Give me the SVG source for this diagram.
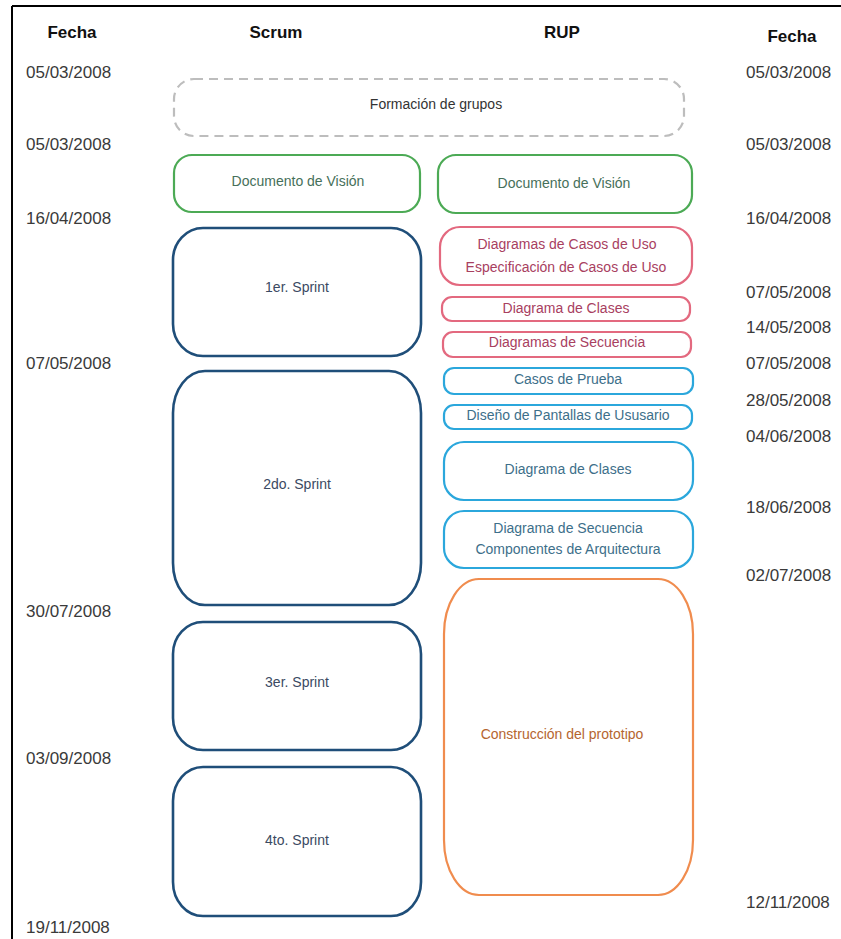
<svg xmlns="http://www.w3.org/2000/svg" width="841" height="939" viewBox="0 0 841 939">
<style>
  text { font-family: "Liberation Sans", Arial, sans-serif; }
  .hdr { font-size: 17px; font-weight: bold; fill: #111; text-anchor: middle; }
  .date { font-size: 17px; fill: #3a3a3a; }
  .lbl { font-size: 14px; text-anchor: middle; }
  .box { fill: #fff; stroke-width: 2.2; }
  .dash { fill: none; stroke: #bdbdbd; stroke-width: 2.2; stroke-dasharray: 9 6; }
  .sprint { stroke: #1f4e79; stroke-width: 2.6; fill: #fff; }
  .sprintT { fill: #3b4a62; }
  .green { stroke: #4caa55; }
  .greenT { fill: #46705a; }
  .pink { stroke: #e3697f; }
  .pinkT { fill: #a8405f; }
  .cyan { stroke: #2ba7dc; }
  .cyanT { fill: #3d6f8a; }
  .orange { stroke: #f08c4e; }
  .orangeT { fill: #b5652f; }
</style>
<rect x="0" y="0" width="841" height="939" fill="#fff"/>
<g id="frame">
  <line x1="12" y1="6" x2="841" y2="6" stroke="#000" stroke-width="2"/>
  <line x1="12" y1="6" x2="12" y2="939" stroke="#000" stroke-width="2"/>
</g>
<g id="headers">
  <text class="hdr" x="72" y="38">Fecha</text>
  <text class="hdr" x="276" y="38">Scrum</text>
  <text class="hdr" x="562" y="38">RUP</text>
  <text class="hdr" x="792" y="42">Fecha</text>
</g>
<g id="dates-left">
  <text class="date" x="26" y="78">05/03/2008</text>
  <text class="date" x="26" y="150">05/03/2008</text>
  <text class="date" x="26" y="224">16/04/2008</text>
  <text class="date" x="26" y="369">07/05/2008</text>
  <text class="date" x="26" y="617">30/07/2008</text>
  <text class="date" x="26" y="764">03/09/2008</text>
  <text class="date" x="26" y="933">19/11/2008</text>
</g>
<g id="dates-right">
  <text class="date" x="746" y="78">05/03/2008</text>
  <text class="date" x="746" y="150">05/03/2008</text>
  <text class="date" x="746" y="224">16/04/2008</text>
  <text class="date" x="746" y="298">07/05/2008</text>
  <text class="date" x="746" y="333">14/05/2008</text>
  <text class="date" x="746" y="369">07/05/2008</text>
  <text class="date" x="746" y="406">28/05/2008</text>
  <text class="date" x="746" y="442">04/06/2008</text>
  <text class="date" x="746" y="513">18/06/2008</text>
  <text class="date" x="746" y="581">02/07/2008</text>
  <text class="date" x="746" y="908">12/11/2008</text>
</g>
<g id="connectors"></g>
<g id="formacion">
  <rect class="dash" x="174" y="79" width="510" height="57" rx="20" ry="20"/>
  <text class="lbl" x="436" y="109" fill="#333" font-size="13">Formación de grupos</text>
</g>
<g id="vision-scrum">
  <rect class="box green" x="174" y="155" width="246" height="57" rx="18" ry="18"/>
  <text class="lbl greenT" x="298" y="186">Documento de Visión</text>
</g>
<g id="vision-rup">
  <rect class="box green" x="438" y="155" width="254" height="58" rx="18" ry="18"/>
  <text class="lbl greenT" x="564" y="188">Documento de Visión</text>
</g>
<g id="sprint1">
  <rect class="sprint" x="173" y="228" width="248" height="128" rx="30" ry="32"/>
  <text class="lbl sprintT" x="297" y="292">1er. Sprint</text>
</g>
<g id="sprint2">
  <rect class="sprint" x="173" y="371" width="248" height="234" rx="32" ry="42"/>
  <text class="lbl sprintT" x="297" y="489">2do. Sprint</text>
</g>
<g id="sprint3">
  <rect class="sprint" x="173" y="622" width="248" height="128" rx="30" ry="32"/>
  <text class="lbl sprintT" x="297" y="687">3er. Sprint</text>
</g>
<g id="sprint4">
  <rect class="sprint" x="173" y="767" width="248" height="149" rx="30" ry="34"/>
  <text class="lbl sprintT" x="297" y="845">4to. Sprint</text>
</g>
<g id="casos-uso">
  <rect class="box pink" x="440" y="227" width="252" height="58" rx="20" ry="20"/>
  <text class="lbl pinkT" x="567" y="249">Diagramas de Casos de Uso</text>
  <text class="lbl pinkT" x="566" y="272">Especificación de Casos de Uso</text>
</g>
<g id="clases-pink">
  <rect class="box pink" x="442" y="297" width="248" height="24" rx="10" ry="10"/>
  <text class="lbl pinkT" x="566" y="313">Diagrama de Clases</text>
</g>
<g id="secuencia-pink">
  <rect class="box pink" x="443" y="332" width="248" height="25" rx="10" ry="10"/>
  <text class="lbl pinkT" x="567" y="347">Diagramas de Secuencia</text>
</g>
<g id="casos-prueba">
  <rect class="box cyan" x="444" y="368" width="249" height="26" rx="10" ry="10"/>
  <text class="lbl cyanT" x="568" y="384">Casos de Prueba</text>
</g>
<g id="pantallas">
  <rect class="box cyan" x="444" y="405" width="248" height="24" rx="10" ry="10"/>
  <text class="lbl cyanT" x="568" y="420">Diseño de Pantallas de Ususario</text>
</g>
<g id="clases-cyan">
  <rect class="box cyan" x="444" y="442" width="249" height="58" rx="20" ry="20"/>
  <text class="lbl cyanT" x="568" y="474">Diagrama de Clases</text>
</g>
<g id="secuencia-cyan">
  <rect class="box cyan" x="444" y="511" width="249" height="57" rx="20" ry="20"/>
  <text class="lbl cyanT" x="568" y="533">Diagrama de Secuencia</text>
  <text class="lbl cyanT" x="568" y="554">Componentes de Arquitectura</text>
</g>
<g id="prototipo">
  <rect class="box orange" x="444" y="579" width="249" height="316" rx="35" ry="55"/>
  <text class="lbl orangeT" x="562" y="739">Construcción del prototipo</text>
</g>
</svg>
